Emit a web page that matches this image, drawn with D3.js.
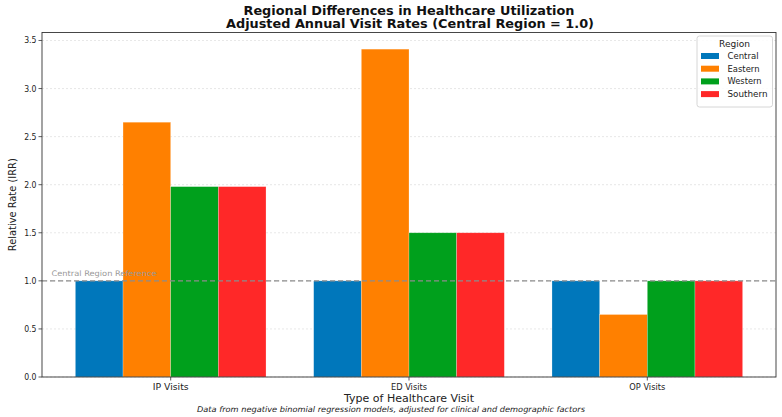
<!DOCTYPE html>
<html><head><meta charset="utf-8">
<script src="https://cdn.jsdelivr.net/npm/d3@7"></script>
<style>body{margin:0;background:#fff}svg{display:block}text{font-family:"DejaVu Sans",sans-serif}</style>
</head><body><svg id="c" width="782" height="417"></svg>
<script>
const categories = ["IP Visits", "ED Visits", "OP Visits"];
const regions = ["Central", "Eastern", "Western", "Southern"];
const central = [1.0, 1.0, 1.0];
const eastern = [2.65, 3.41, 0.65];
const western = [1.98, 1.50, 1.00];
const southern = [1.98, 1.50, 1.00];
const yTicks = [0.0, 0.5, 1.0, 1.5, 2.0, 2.5, 3.0, 3.5];
const colors = ["#0077BB", "#FF8000", "#00A01C", "#FF2828"];
const seriesValues = [central, eastern, western, southern];

const svg = d3.select("#c");
const L = 42, R = 776, T = 32.5, B = 377;
const x = d3.scaleLinear().domain([-0.54, 2.54]).range([L, R]);
const y = d3.scaleLinear().domain([0, 3.583]).range([B, T]);
const bw = 0.2;

function txt(g, s, px, py, opts) {
  const t = g.append("text").attr("x", px).attr("y", py).text(s)
    .attr("font-size", opts.size || 9)
    .attr("text-anchor", opts.anchor || "middle")
    .attr("fill", opts.fill || "#222");
  if (opts.weight) t.attr("font-weight", opts.weight);
  if (opts.style) t.attr("font-style", opts.style);
  if (opts.len) t.attr("textLength", opts.len).attr("lengthAdjust", "spacingAndGlyphs");
  if (opts.rotate) t.attr("transform", `rotate(-90,${px},${py})`);
  return t;
}

// grid
svg.append("g").selectAll("line").data(yTicks).join("line")
  .attr("x1", L).attr("x2", R).attr("y1", d => y(d)).attr("y2", d => y(d))
  .attr("stroke", "#ccc").attr("stroke-opacity", 0.6).attr("stroke-width", 0.8)
  .attr("stroke-dasharray", "2,2");

// bars
regions.forEach((r, i) => {
  svg.append("g").selectAll("rect").data(seriesValues[i]).join("rect")
    .attr("x", (d, j) => x(j - 0.4 + i * bw))
    .attr("width", x(bw) - x(0))
    .attr("y", d => y(d))
    .attr("height", d => y(0) - y(d))
    .attr("fill", colors[i])
    .attr("stroke", "#fff").attr("stroke-opacity", 0.4).attr("stroke-width", 0.6);
});

// reference line
svg.append("line").attr("x1", L).attr("x2", R).attr("y1", y(1)).attr("y2", y(1))
  .attr("stroke", "#8c8c8c").attr("stroke-width", 1.1).attr("stroke-dasharray", "5,3");
txt(svg, "Central Region Reference", x(-0.5), y(1) - 5, {size: 7.6, anchor: "start", fill: "#999", len: 105});

// axes frame
svg.append("rect").attr("x", L).attr("y", T).attr("width", R - L).attr("height", B - T)
  .attr("fill", "none").attr("stroke", "#333").attr("stroke-width", 0.9);

// y ticks
const yg = svg.append("g");
yTicks.forEach(v => {
  yg.append("line").attr("x1", L - 3.5).attr("x2", L).attr("y1", y(v)).attr("y2", y(v)).attr("stroke", "#333").attr("stroke-width", 0.8);
  txt(yg, v.toFixed(1), L - 5.5, y(v) + 3, {size: 8.5, anchor: "end", len: 12.3});
});
// x ticks
categories.forEach((c, j) => {
  svg.append("line").attr("x1", x(j)).attr("x2", x(j)).attr("y1", B).attr("y2", B + 3.5).attr("stroke", "#333").attr("stroke-width", 0.8);
});
const xlens = [36, 36, 36];
categories.forEach((c, j) => txt(svg, c, x(j), 389.5, {size: 9, len: xlens[j]}));

// labels
txt(svg, "Type of Healthcare Visit", 409, 402, {size: 10.5, len: 130});
txt(svg, "Relative Rate (IRR)", 15.5, (T + B) / 2, {size: 10.5, rotate: true, len: 93});
txt(svg, "Data from negative binomial regression models, adjusted for clinical and demographic factors", 391, 411.5, {size: 7.8, style: "italic", len: 388});

// title
txt(svg, "Regional Differences in Healthcare Utilization", 409, 14.5, {size: 12, weight: "bold", len: 331, fill: "#111"});
txt(svg, "Adjusted Annual Visit Rates (Central Region = 1.0)", 410, 28, {size: 12, weight: "bold", len: 368, fill: "#111"});

// legend
const lg = svg.append("g");
lg.append("rect").attr("x", 697).attr("y", 36).attr("width", 75.5).attr("height", 71).attr("rx", 2.5)
  .attr("fill", "#fff").attr("fill-opacity", 0.85).attr("stroke", "#ccc").attr("stroke-width", 0.8);
txt(lg, "Region", 734.5, 47, {size: 8.5, len: 31});
const legLens = [31, 32, 34, 40];
regions.forEach((r, i) => {
  const cy = 56 + i * 12.7;
  lg.append("rect").attr("x", 701).attr("y", cy - 3).attr("width", 18).attr("height", 6).attr("fill", colors[i]);
  txt(lg, r, 727.5, cy + 3, {size: 8.5, anchor: "start", len: legLens[i]});
});
</script></body></html>
